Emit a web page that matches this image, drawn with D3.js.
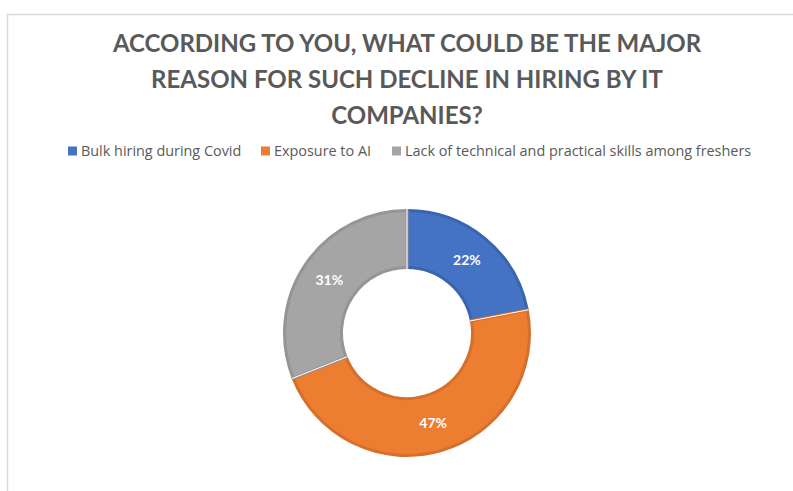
<!DOCTYPE html>
<html>
<head>
<meta charset="utf-8">
<script src="https://cdn.jsdelivr.net/npm/d3@7"></script>
<style>
  html, body { margin: 0; padding: 0; background: #ffffff; }
  svg { display: block; }
</style>
</head>
<body>
<svg id="chart" width="793" height="491"></svg>
<script>
// Survey responses: main reason for the decline in IT hiring
const titleLines = [
  "ACCORDING TO YOU, WHAT COULD BE THE MAJOR",
  "REASON FOR SUCH DECLINE IN HIRING BY IT",
  "COMPANIES?"
];
const categories = [
  "Bulk hiring during Covid",
  "Exposure to AI",
  "Lack of technical and practical skills among freshers"
];
const shares = [22, 47, 31];
const fills = ["#4472C4", "#ED7D31", "#A5A5A5"];
const edges = ["#3A64B0", "#D4702B", "#959595"];

const svg = d3.select("#chart");
const W = 793, H = 491;

// chart frame
svg.append("rect")
  .attr("x", 7.5).attr("y", 14.5)
  .attr("width", W).attr("height", H)
  .attr("fill", "#ffffff")
  .attr("stroke", "#d9d9d9")
  .attr("stroke-width", 1.5);

const cx = 407, cy = 333;
const titleFont = "Lato, 'Open Sans', 'Liberation Sans', sans-serif";
const bodyFont = "'Open Sans', Lato, 'Liberation Sans', sans-serif";

// title
svg.append("g")
  .selectAll("text")
  .data(titleLines)
  .join("text")
  .attr("x", cx)
  .attr("y", (d, i) => 52 + i * 36)
  .attr("text-anchor", "middle")
  .attr("font-family", titleFont)
  .attr("font-weight", 700)
  .attr("font-size", 24)
  .attr("fill", "#595959")
  .text(d => d);

// legend
const legendX = [68, 261, 392];
const legend = svg.append("g")
  .selectAll("g")
  .data(categories)
  .join("g")
  .attr("transform", (d, i) => `translate(${legendX[i]},151)`);
legend.append("rect")
  .attr("x", 0).attr("y", -4.5)
  .attr("width", 9).attr("height", 9)
  .attr("fill", (d, i) => fills[i]);
legend.append("text")
  .attr("x", 13).attr("y", 0)
  .attr("dy", "0.35em")
  .attr("font-family", bodyFont)
  .attr("font-size", 14.4)
  .attr("fill", "#595959")
  .text(d => d);

// donut
const outerR = 124, innerR = 64;
const pie = d3.pie().sort(null).value(d => d)(shares);
const arc = d3.arc().innerRadius(innerR).outerRadius(outerR);
const inset = d3.arc().innerRadius(innerR + 1.5).outerRadius(outerR - 1.5);

const g = svg.append("g").attr("transform", `translate(${cx},${cy})`);
g.selectAll("path")
  .data(pie)
  .join("path")
  .attr("d", inset)
  .attr("fill", (d, i) => fills[i])
  .attr("stroke", (d, i) => edges[i])
  .attr("stroke-width", 3)
  .attr("stroke-linejoin", "miter");

// white separators between slices
g.selectAll("line.sep")
  .data(pie)
  .join("line")
  .attr("class", "sep")
  .attr("x1", d => innerR * Math.sin(d.startAngle))
  .attr("y1", d => -innerR * Math.cos(d.startAngle))
  .attr("x2", d => outerR * Math.sin(d.startAngle))
  .attr("y2", d => -outerR * Math.cos(d.startAngle))
  .attr("stroke", "#ffffff")
  .attr("stroke-width", 1);

g.selectAll("text")
  .data(pie)
  .join("text")
  .attr("transform", d => `translate(${arc.centroid(d)})`)
  .attr("text-anchor", "middle")
  .attr("dy", "0.35em")
  .attr("font-family", titleFont)
  .attr("font-weight", 700)
  .attr("font-size", 14)
  .attr("fill", "#ffffff")
  .text(d => d.data + "%");
</script>
</body>
</html>
